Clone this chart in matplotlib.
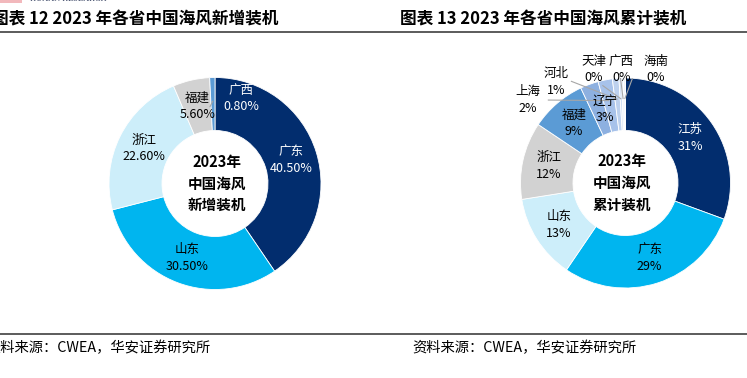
import matplotlib
matplotlib.use('Agg')
import numpy as np
from matplotlib import pyplot as plt
from matplotlib.lines import Line2D
from matplotlib.patches import Rectangle

plt.rcParams['font.family'] = ['Noto Sans CJK SC', 'DejaVu Sans']

W, H = 747, 378

# 2023 新增装机 share (%)
new_provinces = ['广东', '山东', '浙江', '福建', '广西']
new_share = [40.5, 30.5, 22.6, 5.6, 0.8]
new_colors = ['#022D6E', '#00B5EF', '#CDEEFA', '#D2D2D2', '#5B9BD5']
new_text_colors = ['white', 'black', 'black', 'black', 'white']

# 2023 累计装机 share (%)
cum_provinces = ['江苏', '广东', '山东', '浙江', '福建', '辽宁', '上海', '河北', '天津', '广西', '海南']
cum_share = [30.6, 28.9, 13.0, 11.9, 8.6, 2.8, 2.2, 1.0, 0.4, 0.3, 0.3]
cum_colors = ['#022D6E', '#00B5EF', '#CDEEFA', '#D2D2D2', '#5B9BD5', '#8DB0E0',
              '#A7C2EA', '#BDD1EE', '#D1DFF3', '#E1EAF7', '#EEF3FA']
cum_text_colors = ['white', 'black', 'black', 'black', 'black', 'black',
                   'black', 'black', 'black', 'black', 'black']

fig = plt.figure(figsize=(W / 100, H / 100), dpi=100)


def px_axes(cx, cy, r):
    # axes box (figure fraction) for a donut centred at pixel (cx, cy)
    return [(cx - r) / W, (H - cy - r) / H, 2 * r / W, 2 * r / H]


def donut(ax, values, colors):
    wedges, _ = ax.pie(values, colors=colors, startangle=90, counterclock=False,
                       radius=1, wedgeprops=dict(width=0.5, edgecolor='white', linewidth=0.6))
    ax.set_xlim(-1, 1)
    ax.set_ylim(-1, 1)
    ax.set_aspect('equal')
    ax.axis('off')
    return wedges


def mid_point(w, r):
    a = np.deg2rad((w.theta1 + w.theta2) / 2)
    return r * np.cos(a), r * np.sin(a)


lead = dict(color='#A6A6A6', lw=0.8, solid_capstyle='butt')

# ---- left: 新增装机
ax1 = fig.add_axes(px_axes(215, 183.5, 106))
wedges = donut(ax1, new_share, new_colors)
for i, w in enumerate(wedges):
    label = f'{new_provinces[i]}\n{new_share[i]:.2f}%'
    if new_provinces[i] == '广西':
        ax1.text(0.25, 0.80, label, ha='center', va='center', fontsize=9,
                 color=new_text_colors[i], linespacing=1.35)
        x0, y0 = mid_point(w, 0.78)
        ax1.plot([x0, x0 - 0.03], [y0, y0 - 0.06], **lead)
        continue
    x, y = mid_point(w, 0.75)
    ax1.text(x, y, label, ha='center', va='center', fontsize=9,
             color=new_text_colors[i], linespacing=1.35)
ax1.text(0.02, 0, '2023年\n中国海风\n新增装机', ha='center', va='center',
         fontsize=10.5, fontweight='bold', linespacing=1.45)

# ---- right: 累计装机
ax2 = fig.add_axes(px_axes(625.5, 183, 105))
wedges = donut(ax2, cum_share, cum_colors)
# positions of the labels that sit outside the ring (text centre, leader start)
outer_labels = {
    '上海': ((-0.93, 0.79), (-0.74, 0.79)),
    '河北': ((-0.66, 0.96), (-0.52, 0.97)),
    '天津': ((-0.30, 1.08), (-0.22, 0.93)),
    '广西': ((-0.04, 1.08), (-0.05, 1.02)),
    '海南': ((0.29, 1.08), (0.09, 1.06)),
}
for i, w in enumerate(wedges):
    name = cum_provinces[i]
    label = f'{name}\n{cum_share[i]:.0f}%'
    if name in outer_labels:
        (tx, ty), (lx, ly) = outer_labels[name]
        ax2.text(tx, ty, label, ha='center', va='center', fontsize=9,
                 color=cum_text_colors[i], linespacing=1.35)
        ax_, ay_ = mid_point(w, 0.8)
        ax2.plot([lx, ax_], [ly, ay_], **lead)
        continue
    x, y = mid_point(w, 0.75)
    if name == '辽宁':
        x += 0.06
    ax2.text(x, y, label, ha='center', va='center', fontsize=9,
             color=cum_text_colors[i], linespacing=1.35)
ax2.text(-0.03, 0, '2023年\n中国海风\n累计装机', ha='center', va='center',
         fontsize=10.5, fontweight='bold', linespacing=1.45)

# ---- titles, rules, sources (left ones are clipped at the page edge, as in the original)
fig.text(-8 / W, 1 - 20 / H, '图表 12 2023 年各省中国海风新增装机', ha='left', va='center',
         fontsize=12, fontweight='bold')
fig.text(400 / W, 1 - 20 / H, '图表 13 2023 年各省中国海风累计装机', ha='left', va='center',
         fontsize=12, fontweight='bold')
fig.add_artist(Line2D([0, 1], [1 - 31.5 / H] * 2, color='#404040', lw=1.2))
fig.add_artist(Line2D([0, 1], [1 - 333.5 / H] * 2, color='#404040', lw=1.2))
fig.text(-14 / W, 1 - 348 / H, '资料来源：CWEA，华安证券研究所', ha='left', va='center', fontsize=10.3)
fig.text(412 / W, 1 - 348 / H, '资料来源：CWEA，华安证券研究所', ha='left', va='center', fontsize=10.3)

# clipped header logo
fig.add_artist(Rectangle((0, 1 - 3 / H), 22 / W, 3 / H, transform=fig.transFigure,
                         color='#F2B8BC', lw=0))
fig.text(30 / W, 1 + 1 / H, 'HUAAN RESEARCH', ha='left', va='center', fontsize=6,
         family='Liberation Serif', color='#2F3B5C')

fig.savefig('out.png', dpi=100)
